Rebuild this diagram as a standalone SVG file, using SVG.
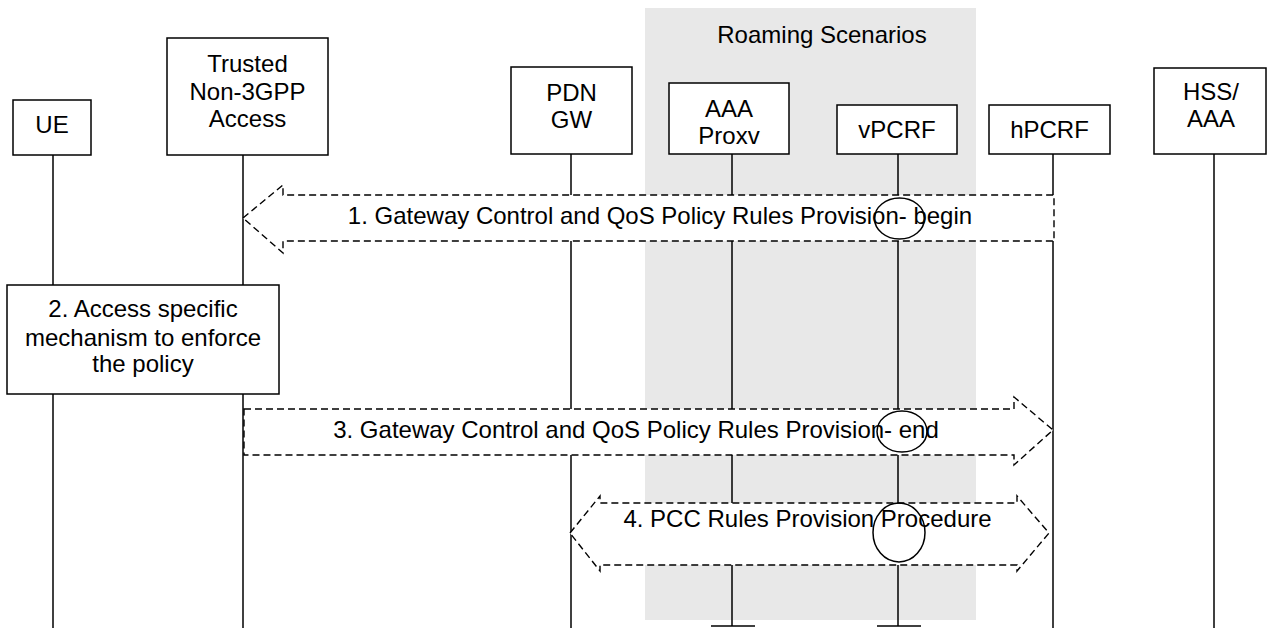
<svg xmlns="http://www.w3.org/2000/svg" width="1267" height="628" viewBox="0 0 1267 628">
<style>
text{font-family:"Liberation Sans",Arial,sans-serif;font-size:24px;fill:#000;text-anchor:middle}
.box{fill:#fff;stroke:#000;stroke-width:1.5}
.life{stroke:#000;stroke-width:1.5;fill:none}
.msg{fill:#fff;stroke:#000;stroke-width:1.4;stroke-dasharray:7,4}
.ell{fill:none;stroke:#000;stroke-width:1.5}
</style>
<rect id="roaming" x="645" y="8" width="331" height="612" fill="#e8e8e8"/>
<text x="822" y="43">Roaming Scenarios</text>
<g id="lifelines" class="life">
<line x1="53" y1="155" x2="53" y2="286"/>
<line x1="53" y1="394" x2="53" y2="628"/>
<line x1="243" y1="155" x2="243" y2="286"/>
<line x1="243" y1="394" x2="243" y2="628"/>
<line x1="571" y1="154" x2="571" y2="628"/>
<line x1="732" y1="154" x2="732" y2="626"/>
<line x1="711" y1="626" x2="755" y2="626"/>
<line x1="898" y1="154" x2="898" y2="626"/>
<line x1="877" y1="626" x2="921" y2="626"/>
<line x1="1053" y1="154" x2="1053" y2="628"/>
<line x1="1214" y1="154" x2="1214" y2="628"/>
</g>
<g id="ue"><rect class="box" x="13" y="100" width="78" height="55"/><text x="52" y="133">UE</text></g>
<g id="trusted"><rect class="box" x="167" y="38" width="161" height="117"/><text x="247.5" y="72">Trusted</text><text x="247.5" y="100">Non-3GPP</text><text x="247.5" y="127">Access</text></g>
<g id="pdngw"><rect class="box" x="511" y="67" width="121" height="87"/><text x="571.5" y="101">PDN</text><text x="571.5" y="128">GW</text></g>
<g id="aaaproxy"><rect class="box" x="669" y="83" width="120" height="71"/><text x="729" y="117">AAA</text><text x="729" y="144">Proxv</text></g>
<g id="vpcrf"><rect class="box" x="837" y="105" width="120" height="49"/><text x="897" y="138">vPCRF</text></g>
<g id="hpcrf"><rect class="box" x="989" y="105" width="121" height="49"/><text x="1049.5" y="138">hPCRF</text></g>
<g id="hssaaa"><rect class="box" x="1154" y="68" width="112" height="86"/><text x="1211" y="100">HSS/</text><text x="1211" y="127">AAA</text></g>
<g id="step2"><rect class="box" x="7" y="285" width="272" height="109"/><text x="143" y="317">2. Access specific</text><text x="143" y="346">mechanism to enforce</text><text x="143" y="372">the policy</text></g>
<g id="connectors">
<g id="msg1"><polygon class="msg" points="243,218 283,185 283,195 1054,195 1054,241 283,241 283,253"/><text x="660" y="224">1. Gateway Control and QoS Policy Rules Provision- begin</text><ellipse class="ell" cx="899.5" cy="218.5" rx="25" ry="20.5"/></g>
<g id="msg3"><polygon class="msg" points="244,409 1014,409 1014,397 1053,430 1014,465 1014,455 244,455"/><text x="636" y="438">3. Gateway Control and QoS Policy Rules Provision- end</text><ellipse class="ell" cx="902" cy="431.5" rx="25" ry="20.5"/></g>
<g id="msg4"><polygon class="msg" points="570,533 600,496 600,503 1017,503 1017,496 1049,533 1017,571 1017,565 600,565 600,571"/><text x="807.5" y="527">4. PCC Rules Provision Procedure</text><ellipse class="ell" cx="899" cy="532.5" rx="26" ry="29.5"/></g>
</g>
</svg>
